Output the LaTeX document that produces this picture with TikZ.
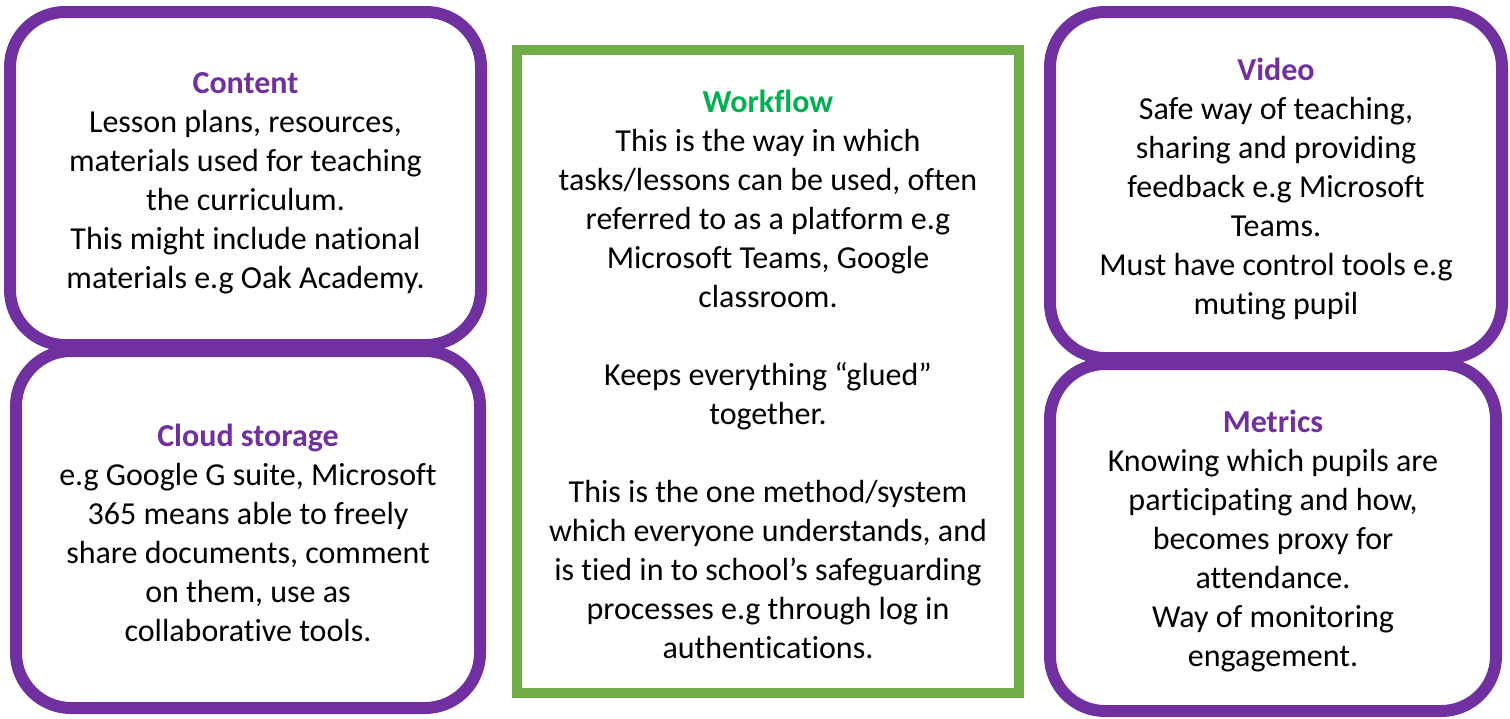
\documentclass[tikz,border=0pt]{standalone}
\usepackage{fontspec}
\setmainfont[Ligatures=NoCommon]{Carlito}

\definecolor{tilepurple}{HTML}{7030A0}
\definecolor{framegreen}{HTML}{70AD47}
\definecolor{headgreen}{HTML}{00B050}

\tikzset{
  tilebox/.style={draw=tilepurple, line width=12pt, rounded corners=55pt,
    fill=white, align=center, inner sep=0pt},
  flowbox/.style={draw=framegreen, line width=10pt, fill=white,
    align=center, inner sep=0pt},
}
\newcommand{\tilehead}[1]{\rule{0pt}{30pt}{\bfseries\color{tilepurple}#1}}
\newcommand{\flowhead}[1]{\rule{0pt}{28pt}{\bfseries\color{headgreen}#1}}

\begin{document}
\begin{tikzpicture}[x=1pt, y=-1pt, font=\fontsize{32}{39}\selectfont]
  \useasboundingbox (0,0) rectangle (1510,718);

  % left column
  \node[tilebox, minimum width=471pt, minimum height=333pt] (content) at (245.5,178.5)
    {\tilehead{Content}\\Lesson plans, resources,\\materials used for teaching\\the curriculum.\\This might include national\\materials e.g Oak Academy.};
  \node[tilebox, minimum width=464pt, minimum height=357pt] (cloud) at (248,529.5)
    {\tilehead{Cloud storage}\\e.g Google G suite, Microsoft\\365 means able to freely\\share documents, comment\\on them, use as\\collaborative tools.};

  % middle frame
  \node[flowbox, minimum width=502pt, minimum height=643pt] (workflow) at (768,371.5)
    {\flowhead{Workflow}\\This is the way in which\\tasks/lessons can be used, often\\referred to as a platform e.g\\Microsoft Teams, Google\\classroom.\\[39pt]Keeps everything “glued”\\together.\\[39pt]This is the one method/system\\which everyone understands, and\\is tied in to school’s safeguarding\\processes e.g through log in\\authentications.};

  % right column
  \node[tilebox, minimum width=452pt, minimum height=346pt] (video) at (1276,185)
    {\tilehead{Video}\\Safe way of teaching,\\sharing and providing\\feedback e.g Microsoft\\Teams.\\Must have control tools e.g\\muting pupil};
  \node[tilebox, minimum width=446pt, minimum height=347pt] (metrics) at (1273,537.5)
    {\tilehead{Metrics}\\Knowing which pupils are\\participating and how,\\becomes proxy for\\attendance.\\Way of monitoring\\engagement.};
\end{tikzpicture}
\end{document}
